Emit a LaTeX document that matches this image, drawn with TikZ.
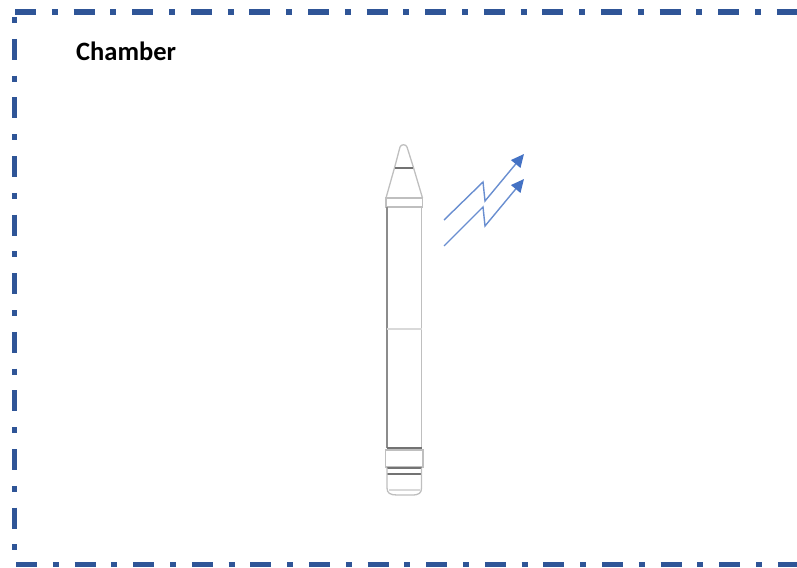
\documentclass[tikz,border=0pt]{standalone}
\usepackage{fontspec}
\setmainfont{Carlito}
\usetikzlibrary{arrows.meta}
\definecolor{frameblue}{HTML}{2F5597}
\definecolor{signalblue}{HTML}{4472C4}
\tikzset{
  chamberline/.style={frameblue, line width=5.5pt, dash pattern=on 21pt off 15.8pt on 6pt off 15.8pt},
  penline/.style={black!25, line width=1.3pt},
  pendark/.style={black!55, line width=2pt},
  signal/.style={signalblue!80, line width=1.4pt, -{Triangle[length=13pt,width=12pt,color=signalblue]}},
}
\begin{document}
\begin{tikzpicture}[x=1pt,y=-1pt]
  \useasboundingbox (0,0) rectangle (797,567);
  % chamber border
  \draw[chamberline] (15,12) -- (797,12);
  \draw[chamberline] (16,564.5) -- (797,564.5);
  \draw[chamberline, dash phase=36.8pt] (14.5,17) -- (14.5,552);
  \node[anchor=base west, inner sep=0pt, font=\fontsize{26.5}{30}\selectfont\bfseries] (chamber) at (76,61) {Chamber};
  % pen
  \draw[penline] (386,198) -- (395,166) -- (400,147) .. controls (401,144) and (406,144) .. (407,147) -- (413,166) -- (422.5,198);
  \draw[pendark] (395,167.5) -- (413,167.5);
  \draw[penline] (386,198) rectangle (422.5,207);
  \draw[penline, black!45] (387,207) -- (387,448);
  \draw[penline] (421.5,207) -- (421.5,448);
  \draw[penline, black!15] (387,329) -- (421.5,329);
  \draw[pendark] (387,448) -- (421.5,448);
  \draw[penline] (385.5,450) rectangle (423,467);
  \draw[pendark] (387,467.5) -- (421.5,467.5);
  \draw[pendark] (387,474) -- (421.5,474);
  \draw[penline] (387,467.5) -- (387,488) .. controls (387,493) and (390,495) .. (397,495) -- (412,495) .. controls (419,495) and (421.5,493) .. (421.5,488) -- (421.5,467.5);
  \draw[penline, black!15] (389,490) -- (420,490);
  % signal arrows
  \draw[signal] (444,220) -- (483,182) -- (485,201) -- (524,154);
  \draw[signal] (444,246) -- (483,207) -- (485,226) -- (524,179);
\end{tikzpicture}
\end{document}
